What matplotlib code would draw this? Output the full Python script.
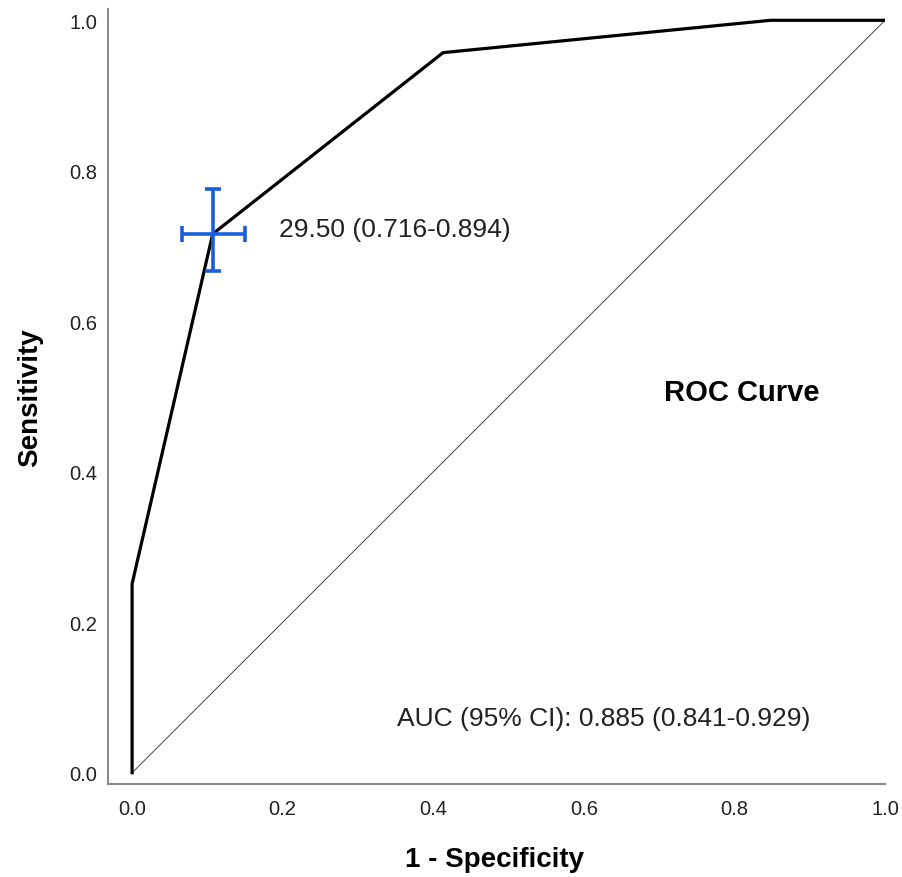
import numpy as np
import matplotlib.pyplot as plt

plt.rcParams['font.family'] = ['Liberation Sans', 'DejaVu Sans']

# ROC curve points (1 - specificity, sensitivity)
fpr = [0.0, 0.0, 0.107, 0.413, 0.848, 1.0]
tpr = [0.0, 0.251, 0.716, 0.957, 1.0, 1.0]

# cut-off point with confidence intervals
cut_x = 0.107
cut_y = 0.716
cut_xerr = [[0.041], [0.043]]
cut_yerr = [[0.049], [0.060]]
cut_label = "29.50 (0.716-0.894)"
auc_label = "AUC (95% CI): 0.885 (0.841-0.929)"

ticks = [0.0, 0.2, 0.4, 0.6, 0.8, 1.0]

fig = plt.figure(figsize=(9.03, 8.78), dpi=100)
ax = fig.add_axes([0.1196, 0.1059, 0.8605, 0.8827])

ax.plot([0, 1], [0, 1], color='#444444', lw=0.7)
ax.plot(fpr, tpr, color='black', lw=2.3, solid_joinstyle='miter')
ax.errorbar(cut_x, cut_y, xerr=cut_xerr, yerr=cut_yerr, fmt='none',
            ecolor='#1a5ee0', elinewidth=2.6, capsize=5.5, capthick=2.6, zorder=5)

ax.text(0.195, 0.722, cut_label, fontsize=19, va='center', ha='left', color='#222222')
ax.text(0.706, 0.506, "ROC Curve", fontsize=21, fontweight='bold', va='center', ha='left')
ax.text(0.352, 0.073, auc_label, fontsize=19, va='center', ha='left', color='#222222')

ax.set_xlim(-0.032, 1.0)
ax.set_ylim(-0.015, 1.015)
ax.set_xticks(ticks)
ax.set_yticks(ticks)
ax.set_xticklabels([f"{t:.1f}" for t in ticks])
ax.set_yticklabels([f"{t:.1f}" for t in ticks])
ax.tick_params(length=0, labelsize=14.5, colors='#222222')
ax.tick_params(axis='x', pad=11)
ax.tick_params(axis='y', pad=8)

for side in ['top', 'right']:
    ax.spines[side].set_visible(False)
for side in ['left', 'bottom']:
    ax.spines[side].set_color('#8c8c8c')
    ax.spines[side].set_linewidth(1.5)

ax.set_xlabel("1 - Specificity", fontsize=20, fontweight='bold', va='center')
ax.set_ylabel("Sensitivity", fontsize=20, fontweight='bold', va='center')
ax.xaxis.set_label_coords(0.498, -0.097)
ax.yaxis.set_label_coords(-0.100, 0.5)

fig.savefig('out.png', dpi=100)
